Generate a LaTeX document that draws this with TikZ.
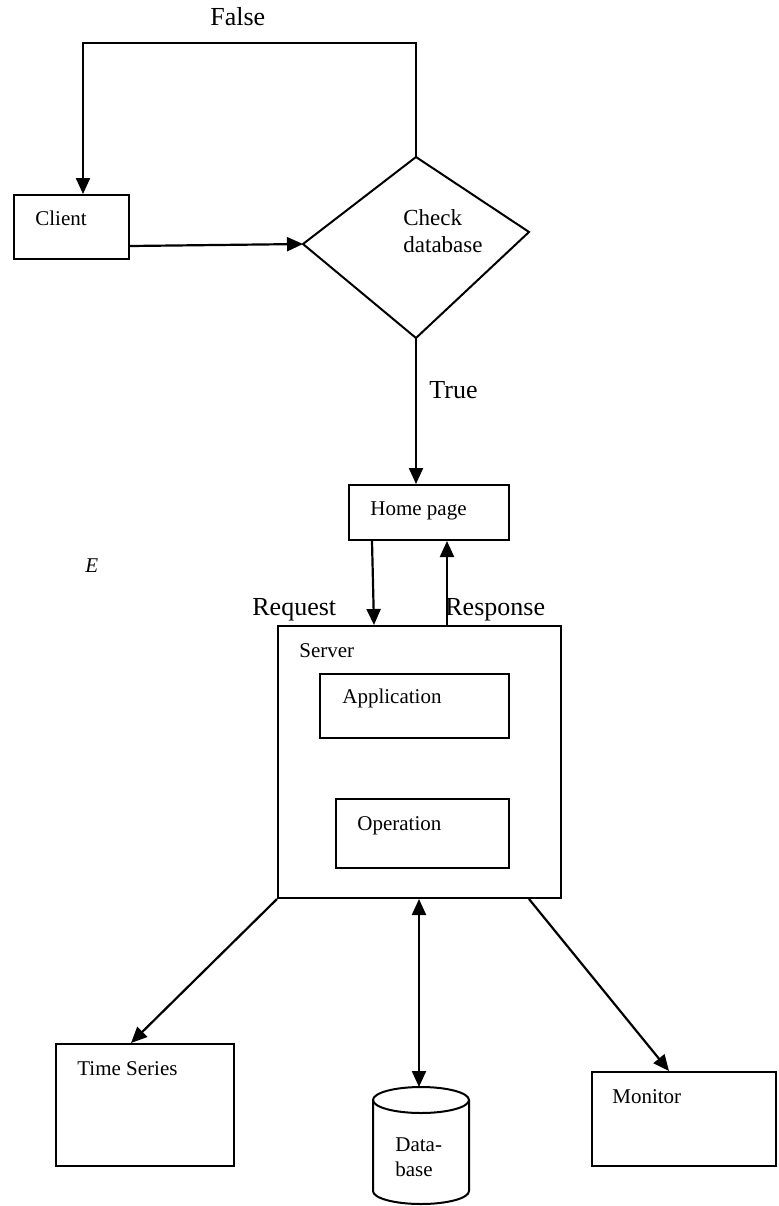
\documentclass[tikz,border=0pt]{standalone}
\usepackage{fontspec}
\setmainfont{Liberation Serif}
\usetikzlibrary{arrows.meta}

\begin{document}
\begin{tikzpicture}[x=0.5pt, y=-0.5pt,
  box/.style={draw, line width=1pt, inner sep=0pt},
  txt/.style={inner sep=0pt, anchor=base west, font=\fontsize{10.5}{12.5}\selectfont},
  big/.style={inner sep=0pt, anchor=base west, font=\fontsize{13}{15.6}\selectfont},
  link/.style={line width=1.1pt, -{Triangle[length=8pt, width=7pt]}},
  both/.style={link, {Triangle[length=8pt, width=7pt]}-{Triangle[length=8pt, width=7pt]}}]
  \useasboundingbox (0,0) rectangle (778,1206);

  % Top: login check
  \node[box, minimum width=57.5pt, minimum height=32pt] (client) at (71.5,227) {};
  \node[txt] (clienttxt) at (35,225) {Client};
  \coordinate (dtop) at (416,157);
  \coordinate (dright) at (529,232);
  \coordinate (dbot) at (416,338);
  \coordinate (dleft) at (303,244);
  \draw[line width=1pt] (dtop) -- (dright) -- (dbot) -- (dleft) -- cycle;
  \node[inner sep=0pt, anchor=north west, align=left, font=\fontsize{11.5}{13.5}\selectfont] (check) at (403,209) {Check\\database};
  \node[big] (falsetxt) at (210,25) {False};
  \node[big] (truetxt) at (429,398) {True};

  % Middle: home page and server
  \node[box, minimum width=80pt, minimum height=27.5pt] (home) at (429,512.5) {};
  \node[txt] (hometxt) at (370,515) {Home page};
  \node[txt, font=\fontsize{10.5}{12.5}\selectfont\itshape] (emark) at (85,572) {E};
  \node[big] (request) at (252,615) {Request};
  \node[big] (response) at (445,615) {Response};
  \node[box, minimum width=141.5pt, minimum height=136pt] (server) at (419.5,762) {};
  \node[txt] (servertxt) at (299,657) {Server};
  \node[box, minimum width=94.5pt, minimum height=32pt] (app) at (414.5,706) {};
  \node[txt] (apptxt) at (342,703) {Application};
  \node[box, minimum width=86.5pt, minimum height=34.5pt] (oper) at (422.5,833.5) {};
  \node[txt] (opertxt) at (357,830) {Operation};

  % Bottom: stores
  \node[box, minimum width=89pt, minimum height=61pt] (ts) at (145,1105) {};
  \node[txt] (tstxt) at (77,1075) {Time Series};
  \node[box, minimum width=92pt, minimum height=47pt] (monitor) at (684,1119) {};
  \node[txt] (montxt) at (612,1103) {Monitor};
  \coordinate (dbtop) at (419,1087);
  \draw[line width=1pt] (421,1100) ellipse [x radius=24pt, y radius=6.5pt];
  \draw[line width=1pt] (373,1100) -- (373,1191)
    arc[start angle=180, end angle=360, x radius=24pt, y radius=6.5pt] -- (469,1100);
  \node[txt, anchor=north west, align=left] (dbtxt) at (395,1137) {Data-\\base};

  % Arrows
  \coordinate (loopl) at (83,43);
  \draw[link] (dtop) |- (loopl) -- (loopl |- client.north);
  \draw[link] (client.east |- 0,246) -- (dleft);
  \draw[link] (dbot) -- (dbot |- home.north);
  \draw[link] (home.south -| 372,0) -- (server.north -| 374,0);
  \draw[link] (server.north -| 447,0) -- (home.south -| 447,0);
  \draw[link] (server.south west) -- (ts.north -| 131,0);
  \draw[both] (server.south -| dbtop) -- (dbtop);
  \draw[link] (server.south -| 529,0) -- (monitor.north -| 669,0);
\end{tikzpicture}
\end{document}
